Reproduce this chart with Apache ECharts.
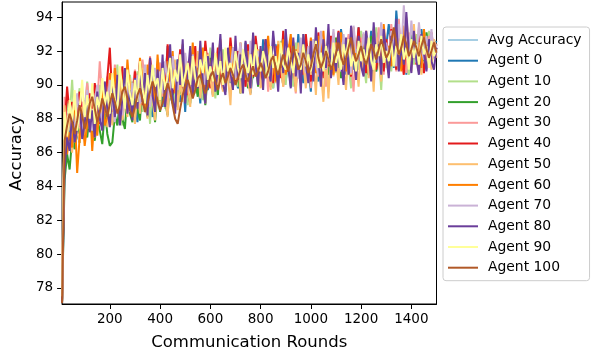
<!DOCTYPE html>
<html>
<head>
<meta charset="utf-8">
<script src="https://cdn.jsdelivr.net/npm/echarts@6/dist/echarts.min.js"></script>
<style>
  html, body { margin: 0; padding: 0; background: #fff; }
  #chart { width: 593px; height: 356px; }
</style>
</head>
<body>
<div id="chart"></div>
<script>
// rounds 10, 20, ..., 1500
var rounds = [];
for (var i = 1; i <= 150; i++) rounds.push(i * 10);

var xTicks = [200, 400, 600, 800, 1000, 1200, 1400];
var yTicks = [78, 80, 82, 84, 86, 88, 90, 92, 94];

var names = ['Avg Accuracy', 'Agent 0', 'Agent 10', 'Agent 20', 'Agent 30', 'Agent 40',
    'Agent 50', 'Agent 60', 'Agent 70', 'Agent 80', 'Agent 90', 'Agent 100'];
// matplotlib "Paired" colours
var colors = ['#a6cee3', '#1f78b4', '#b2df8a', '#33a02c', '#fb9a99', '#e31a1c',
    '#fdbf6f', '#ff7f00', '#cab2d6', '#6a3d9a', '#ffff99', '#b15928'];

var avg = [77.3, 86.8, 87.2, 87.6, 87.4, 87.9, 87.7, 88.1, 87.9, 88.2,
    88.0, 88.4, 88.2, 88.6, 88.3, 88.7, 88.5, 88.9, 88.7, 89.0,
    88.8, 89.1, 88.9, 89.2, 89.0, 89.3, 89.1, 89.4, 89.2, 89.5,
    89.3, 89.6, 89.4, 89.7, 89.5, 89.8, 89.6, 89.9, 89.7, 90.0,
    89.8, 90.1, 89.9, 90.2, 90.0, 90.3, 90.1, 90.3, 90.2, 90.4,
    89.9, 90.2, 90.0, 90.3, 90.1, 90.3, 90.2, 90.4, 90.2, 90.4,
    90.3, 90.5, 90.3, 90.6, 90.4, 90.6, 90.4, 90.7, 90.5, 90.7,
    90.5, 90.8, 90.6, 90.8, 90.7, 90.9, 90.7, 90.9, 90.8, 91.0,
    90.8, 91.0, 90.9, 91.1, 90.9, 91.1, 91.0, 91.2, 91.0, 91.2,
    91.0, 91.2, 91.1, 91.3, 91.1, 91.3, 91.2, 91.4, 91.2, 91.4,
    91.2, 91.4, 91.3, 91.5, 91.3, 91.5, 91.4, 91.6, 91.4, 91.6,
    91.4, 91.6, 91.5, 91.7, 91.5, 91.7, 91.6, 91.8, 91.6, 91.8,
    91.5, 91.8, 91.6, 91.8, 91.7, 91.9, 91.7, 91.9, 91.8, 92.0,
    91.7, 91.9, 91.8, 92.0, 91.8, 92.0, 91.9, 92.1, 91.9, 92.1,
    91.8, 92.0, 91.9, 92.1, 91.9, 92.1, 92.0, 92.1, 92.0, 92.1];
var agent0 = [77.1, 85.9, 88.3, 86.7, 87.9, 88.8, 87.1, 86.6, 88.4, 89.1,
    87.5, 88.9, 87.6, 86.9, 89.4, 88.2, 90.1, 87.8, 88.6, 89.7,
    88.0, 90.4, 89.1, 87.7, 88.5, 90.9, 89.6, 88.3, 90.2, 88.9,
    87.8, 89.9, 91.0, 88.6, 90.3, 89.2, 88.1, 90.7, 89.5, 91.3,
    88.7, 90.1, 92.3, 89.4, 88.9, 90.6, 91.5, 89.0, 90.8, 88.4,
    91.2, 90.0, 89.3, 91.8, 90.5, 88.9, 91.1, 92.0, 89.7, 90.6,
    89.4, 91.7, 90.3, 92.4, 90.9, 89.6, 91.4, 90.1, 92.2, 90.7,
    89.8, 91.3, 90.6, 92.5, 91.0, 89.5, 90.8, 92.1, 91.4, 90.0,
    92.7, 91.1, 90.4, 91.9, 89.8, 92.4, 90.6, 91.5, 92.9, 90.2,
    91.6, 89.9, 92.2, 90.8, 93.0, 91.3, 90.1, 92.5, 91.0, 89.6,
    92.3, 91.4, 90.2, 92.8, 91.7, 90.5, 93.1, 91.2, 90.8, 92.6,
    91.0, 93.3, 92.1, 90.6, 91.8, 92.9, 90.9, 91.5, 93.4, 91.9,
    90.7, 92.6, 91.4, 93.2, 92.0, 90.8, 91.7, 92.8, 90.9, 92.3,
    93.6, 92.1, 91.0, 94.4, 92.5, 91.3, 92.8, 90.6, 92.0, 93.1,
    91.5, 92.7, 90.9, 93.3, 92.2, 91.1, 92.9, 91.6, 92.3, 92.6];
var agent10 = [77.4, 87.2, 89.0, 88.1, 90.3, 87.5, 88.9, 89.8, 87.6, 88.4,
    90.2, 88.7, 87.4, 89.3, 88.1, 90.0, 89.2, 87.9, 88.6, 90.5,
    88.3, 89.5, 91.2, 88.8, 87.6, 89.9, 88.5, 90.6, 89.3, 88.0,
    90.8, 89.6, 88.4, 91.1, 89.9, 87.7, 90.2, 88.9, 91.4, 89.5,
    90.3, 88.6, 91.6, 89.9, 90.7, 88.8, 91.2, 89.4, 92.0, 90.1,
    88.8, 91.5, 90.3, 89.5, 91.9, 90.6, 89.1, 91.3, 90.0, 92.2,
    90.4, 89.2, 91.7, 90.6, 92.1, 89.6, 90.9, 91.8, 90.2, 91.4,
    89.9, 92.3, 91.0, 90.4, 91.6, 89.7, 92.0, 90.8, 91.5, 90.1,
    91.9, 90.6, 92.4, 91.2, 89.8, 91.7, 90.5, 92.6, 91.3, 90.0,
    92.1, 91.0, 89.9, 92.5, 91.4, 90.3, 93.0, 91.7, 90.6, 92.2,
    90.9, 92.8, 91.5, 90.2, 92.3, 91.1, 89.6, 92.6, 91.8, 90.7,
    93.0, 91.6, 90.4, 92.4, 91.2, 89.8, 92.9, 91.5, 90.9, 93.2,
    91.3, 90.1, 92.7, 91.8, 90.5, 93.4, 91.9, 89.7, 92.5, 91.0,
    92.2, 90.8, 93.1, 91.4, 92.6, 90.9, 93.5, 91.7, 90.6, 92.8,
    91.2, 93.0, 91.9, 90.7, 92.4, 91.5, 93.2, 91.3, 92.0, 91.8];
var agent20 = [77.2, 84.4, 85.9, 85.0, 86.8, 86.2, 87.7, 86.6, 88.3, 87.2,
    86.9, 88.4, 87.5, 86.7, 88.0, 87.3, 86.5, 88.6, 87.1, 86.4,
    86.6, 88.2, 87.6, 89.1, 88.0, 87.4, 89.5, 88.3, 87.8, 89.9,
    88.6, 87.9, 90.2, 88.9, 88.1, 90.5, 89.3, 87.8, 89.7, 88.4,
    90.3, 89.0, 88.2, 90.6, 89.4, 91.1, 88.7, 90.0, 89.2, 91.3,
    89.6, 88.9, 91.0, 90.2, 89.3, 91.4, 90.0, 88.8, 90.7, 91.6,
    89.8, 90.9, 89.4, 91.5, 90.3, 89.7, 91.9, 90.5, 89.9, 91.2,
    90.6, 89.5, 91.8, 90.9, 89.8, 92.1, 90.4, 91.3, 89.9, 91.7,
    90.2, 92.0, 90.8, 89.9, 91.6, 90.5, 92.3, 91.1, 90.0, 91.8,
    91.3, 90.1, 92.4, 91.0, 90.4, 91.9, 90.7, 92.6, 91.2, 89.9,
    92.1, 90.9, 91.6, 90.3, 92.7, 91.4, 90.6, 92.2, 91.0, 92.8,
    91.5, 90.4, 92.5, 91.8, 90.7, 93.0, 91.6, 90.9, 92.3, 91.2,
    92.6, 91.0, 90.6, 92.9, 91.7, 90.8, 93.1, 91.9, 91.2, 92.4,
    91.1, 92.7, 91.6, 90.9, 93.2, 92.0, 91.3, 92.8, 91.0, 93.0,
    91.8, 92.5, 90.8, 92.2, 91.4, 93.1, 92.0, 91.2, 92.6, 92.1];
var agent30 = [77.5, 89.3, 87.6, 88.8, 87.0, 89.4, 88.2, 87.5, 89.0, 88.4,
    90.1, 88.6, 87.8, 89.7, 88.9, 91.4, 89.2, 88.3, 90.5, 89.6,
    88.7, 91.2, 89.9, 88.4, 90.6, 89.3, 91.0, 88.6, 89.8, 90.9,
    89.5, 88.5, 91.5, 90.2, 89.1, 91.7, 89.8, 88.9, 90.6, 91.3,
    89.3, 90.8, 88.9, 91.8, 90.4, 89.6, 91.2, 90.0, 92.0, 89.7,
    91.4, 90.1, 89.4, 91.6, 90.5, 92.2, 90.8, 89.5, 91.9, 90.3,
    89.9, 91.8, 90.6, 92.4, 91.0, 89.8, 91.5, 90.2, 92.1, 91.1,
    90.4, 92.3, 91.2, 89.9, 91.7, 90.8, 92.6, 91.3, 90.1, 92.0,
    90.7, 91.9, 89.6, 92.2, 91.0, 90.3, 92.5, 91.4, 89.9, 91.8,
    92.4, 90.6, 91.3, 89.5, 92.1, 91.0, 92.7, 90.4, 91.6, 89.8,
    92.3, 91.1, 90.5, 92.9, 91.6, 89.9, 92.0, 91.4, 93.1, 90.8,
    91.7, 92.6, 90.2, 91.9, 93.0, 91.2, 89.6, 92.4, 91.5, 92.8,
    90.9, 93.2, 91.7, 90.4, 92.5, 91.1, 93.4, 91.8, 90.6, 92.7,
    91.4, 93.6, 92.1, 90.8, 93.9, 91.6, 92.4, 90.7, 93.1, 91.9,
    92.8, 91.3, 93.4, 91.7, 92.2, 90.9, 92.9, 91.5, 92.6, 92.3];
var agent40 = [77.3, 87.4, 89.9, 88.2, 89.0, 87.5, 88.7, 89.6, 87.9, 88.8,
    88.2, 89.5, 88.6, 90.1, 88.9, 87.7, 89.3, 88.5, 90.4, 92.2,
    89.1, 90.3, 88.7, 89.6, 91.1, 88.9, 90.5, 89.3, 88.6, 90.8,
    89.6, 91.4, 88.8, 90.2, 89.4, 91.6, 90.0, 88.9, 91.2, 89.7,
    90.6, 89.3, 92.4, 90.1, 89.5, 91.0, 90.4, 92.1, 89.8, 90.9,
    89.4, 91.5, 90.7, 92.3, 89.9, 91.1, 90.3, 92.6, 91.0, 89.8,
    91.6, 90.4, 92.2, 90.9, 89.7, 91.8, 90.6, 92.8, 91.1, 90.2,
    92.0, 90.7, 91.5, 89.9, 92.4, 91.2, 90.5, 92.9, 91.6, 90.3,
    91.2, 92.7, 90.6, 91.9, 90.1, 92.3, 91.5, 90.4, 93.2, 91.0,
    90.8, 92.5, 91.3, 89.9, 92.0, 91.7, 90.6, 93.0, 91.4, 90.2,
    92.4, 91.0, 93.1, 91.6, 90.4, 92.2, 91.1, 92.9, 90.7, 91.8,
    93.2, 91.5, 90.8, 92.6, 91.3, 90.5, 92.9, 91.7, 93.4, 91.1,
    91.9, 90.7, 92.5, 91.4, 93.0, 90.9, 92.2, 91.6, 90.8, 92.7,
    91.5, 93.3, 92.0, 90.9, 92.8, 91.6, 90.6, 93.1, 92.2, 91.4,
    92.6, 91.2, 93.0, 91.8, 90.7, 92.4, 91.5, 93.1, 91.9, 92.2];
var agent50 = [77.6, 88.8, 86.4, 88.5, 86.0, 88.9, 87.3, 86.6, 88.7, 87.0,
    89.1, 87.4, 88.3, 86.9, 89.6, 87.8, 88.6, 90.2, 87.5, 88.9,
    87.6, 89.8, 88.4, 90.6, 87.9, 89.2, 88.1, 90.4, 88.8, 87.7,
    90.1, 88.3, 91.0, 89.5, 88.0, 90.7, 89.1, 87.9, 90.3, 88.6,
    91.2, 89.4, 88.1, 90.8, 89.7, 91.5, 88.5, 90.2, 89.0, 91.7,
    89.9, 88.7, 91.3, 90.1, 92.0, 89.2, 90.6, 88.9, 91.8, 90.4,
    89.3, 91.5, 90.0, 92.2, 89.6, 91.1, 90.5, 88.8, 91.9, 90.3,
    91.6, 89.5, 90.9, 92.4, 90.2, 89.4, 91.7, 90.6, 92.1, 89.8,
    90.5, 92.3, 91.0, 89.7, 91.8, 90.1, 92.6, 91.2, 89.9, 91.4,
    92.0, 90.3, 91.6, 89.6, 92.5, 90.9, 91.3, 89.8, 92.2, 90.6,
    91.5, 89.4, 92.4, 90.8, 89.0, 91.9, 89.2, 92.1, 90.5, 91.7,
    90.0, 92.7, 91.1, 89.7, 92.3, 90.6, 93.0, 91.4, 89.9, 92.5,
    91.0, 93.2, 90.4, 92.0, 89.6, 92.8, 91.5, 90.2, 93.1, 91.3,
    90.7, 92.6, 91.2, 93.5, 90.9, 92.1, 91.6, 94.0, 92.3, 90.8,
    93.6, 91.4, 92.5, 90.6, 93.0, 91.8, 92.2, 90.9, 92.7, 91.6];
var agent60 = [77.2, 87.6, 85.9, 87.2, 86.3, 88.5, 84.8, 86.9, 88.2, 86.4,
    87.7, 89.2, 86.1, 88.4, 87.0, 88.9, 89.8, 87.6, 88.1, 90.7,
    88.4, 91.0, 89.2, 88.0, 90.3, 88.7, 91.5, 89.6, 88.3, 90.4,
    89.0, 91.6, 90.1, 88.5, 91.2, 89.4, 90.6, 88.8, 91.8, 89.7,
    90.5, 88.9, 91.4, 90.2, 92.0, 89.5, 91.1, 90.0, 92.4, 89.8,
    91.3, 90.2, 92.5, 89.9, 91.0, 90.6, 92.2, 89.6, 91.5, 90.8,
    92.0, 90.4, 91.2, 92.7, 90.1, 91.6, 90.7, 92.3, 89.9, 91.4,
    90.8, 92.5, 91.1, 90.3, 92.0, 91.4, 92.8, 90.6, 91.2, 92.1,
    90.4, 91.7, 92.9, 90.9, 91.5, 90.2, 92.4, 91.0, 92.7, 90.6,
    91.9, 93.0, 90.8, 92.1, 91.3, 90.5, 92.6, 91.7, 90.9, 92.8,
    91.2, 90.7, 92.9, 91.5, 93.2, 90.9, 92.0, 91.4, 90.6, 92.5,
    91.6, 93.1, 92.0, 90.8, 92.6, 91.3, 93.4, 91.0, 92.2, 91.5,
    93.0, 91.2, 92.4, 90.9, 93.3, 91.8, 92.1, 91.0, 93.6, 91.7,
    92.3, 91.1, 93.2, 91.9, 92.6, 90.8, 93.5, 91.6, 92.4, 91.2,
    93.1, 91.7, 92.5, 91.0, 93.3, 92.1, 91.6, 92.8, 91.9, 92.4];
var agent70 = [77.4, 88.1, 87.2, 88.9, 88.4, 87.0, 89.5, 87.9, 87.4, 88.8,
    89.7, 88.2, 87.3, 89.1, 90.0, 88.5, 87.9, 89.6, 88.7, 90.3,
    89.0, 87.8, 90.5, 89.3, 88.2, 91.0, 89.7, 88.4, 90.1, 89.2,
    90.6, 88.9, 89.8, 91.2, 89.5, 88.7, 90.4, 91.0, 89.3, 90.8,
    89.5, 91.4, 90.1, 89.2, 91.7, 90.5, 89.7, 91.3, 90.0, 91.9,
    90.7, 89.6, 91.8, 90.4, 89.9, 92.1, 90.9, 90.0, 91.6, 90.5,
    91.8, 90.2, 91.1, 92.3, 90.7, 89.8, 91.9, 90.9, 92.2, 90.4,
    91.3, 92.5, 90.8, 91.7, 90.3, 92.6, 91.2, 90.7, 92.0, 91.5,
    90.6, 92.4, 91.4, 90.8, 92.9, 91.6, 90.5, 92.2, 91.1, 93.0,
    91.7, 90.9, 92.6, 91.3, 90.4, 92.8, 91.8, 90.7, 92.3, 91.5,
    92.7, 91.2, 90.6, 93.2, 91.9, 90.9, 92.5, 91.4, 93.3, 91.0,
    92.1, 90.8, 93.0, 91.6, 92.4, 90.7, 93.5, 91.9, 92.2, 91.3,
    93.1, 91.5, 92.0, 90.9, 93.4, 92.2, 91.3, 93.7, 91.8, 92.5,
    91.6, 93.2, 92.4, 91.1, 93.6, 92.0, 94.7, 92.3, 91.5, 93.8,
    92.0, 91.3, 93.7, 92.2, 91.5, 92.9, 91.8, 93.3, 91.6, 92.4];
var agent80 = [77.2, 85.0, 86.9, 86.1, 88.4, 86.6, 87.4, 88.9, 86.8, 87.7,
    89.3, 87.2, 88.5, 86.9, 89.6, 88.0, 87.3, 90.2, 88.6, 87.5,
    89.8, 88.1, 90.6, 87.6, 89.2, 91.0, 88.3, 89.7, 87.9, 90.4,
    88.6, 91.3, 89.0, 90.7, 88.2, 91.6, 89.4, 88.4, 90.9, 89.1,
    91.8, 88.7, 90.3, 92.4, 89.2, 88.3, 91.5, 90.0, 92.7, 88.9,
    90.6, 92.3, 89.3, 91.1, 89.8, 92.6, 90.2, 88.9, 91.7, 90.4,
    92.5, 89.6, 91.0, 93.0, 90.1, 89.4, 92.2, 90.8, 89.7, 92.9,
    90.3, 91.8, 89.5, 92.6, 90.9, 89.8, 93.1, 91.2, 90.0, 92.3,
    89.7, 92.7, 91.0, 90.2, 93.2, 91.5, 89.6, 92.4, 90.7, 93.3,
    91.1, 89.8, 92.8, 90.5, 91.9, 89.5, 93.0, 91.3, 90.1, 92.6,
    90.2, 93.4, 91.5, 89.9, 92.7, 91.0, 93.6, 90.4, 92.0, 90.8,
    93.1, 91.4, 90.0, 92.8, 90.6, 93.5, 91.7, 90.3, 92.9, 91.1,
    90.5, 93.2, 91.9, 90.2, 93.7, 91.3, 92.4, 90.6, 93.3, 91.8,
    90.4, 92.9, 91.6, 93.9, 90.8, 92.3, 91.2, 94.3, 92.0, 90.7,
    93.2, 91.5, 90.6, 93.0, 91.9, 90.8, 92.7, 91.4, 90.9, 92.2];
var agent90 = [77.5, 88.4, 87.0, 89.1, 87.8, 89.7, 87.3, 88.6, 90.3, 88.1,
    89.4, 88.0, 90.1, 87.7, 89.3, 88.5, 90.4, 88.8, 89.6, 88.3,
    90.7, 89.2, 88.4, 91.1, 89.7, 88.6, 90.9, 89.5, 88.8, 90.3,
    89.0, 91.4, 89.8, 88.9, 90.6, 89.4, 91.2, 89.9, 90.4, 89.1,
    91.0, 89.7, 90.5, 91.6, 89.8, 90.9, 90.2, 91.8, 89.9, 90.6,
    91.3, 90.0, 91.7, 90.4, 89.9, 91.5, 90.7, 92.0, 90.3, 91.1,
    90.2, 91.9, 90.6, 91.4, 90.0, 92.2, 90.8, 91.3, 90.5, 92.0,
    91.0, 90.4, 92.1, 91.2, 90.7, 91.8, 90.6, 92.4, 91.1, 90.8,
    92.0, 91.3, 90.5, 92.3, 91.0, 91.7, 90.8, 92.5, 91.2, 90.9,
    92.2, 91.4, 90.7, 92.0, 91.6, 90.9, 92.4, 91.1, 91.8, 90.8,
    91.7, 92.6, 91.0, 91.9, 90.8, 92.3, 91.5, 90.9, 92.5, 91.3,
    92.0, 90.9, 92.4, 91.6, 92.7, 91.1, 91.8, 90.8, 92.6, 91.4,
    92.1, 91.2, 92.8, 91.5, 90.9, 92.4, 91.7, 92.9, 91.3, 92.0,
    91.4, 92.6, 91.1, 92.3, 91.8, 93.0, 91.5, 92.2, 90.9, 92.7,
    91.6, 92.4, 91.2, 92.9, 91.8, 92.3, 91.0, 92.6, 91.7, 92.1];
var agent100 = [77.1, 86.7, 87.6, 88.3, 87.8, 87.1, 87.9, 88.8, 88.2, 87.4,
    88.0, 88.9, 89.3, 88.6, 87.8, 88.4, 89.2, 88.7, 88.1, 88.9,
    89.5, 89.0, 88.3, 88.8, 89.6, 89.9, 89.2, 88.5, 88.1, 88.7,
    89.4, 89.8, 89.1, 88.4, 88.9, 89.6, 90.2, 89.7, 89.0, 88.5,
    88.9, 89.5, 90.1, 89.6, 88.8, 88.0, 87.7, 88.6, 89.4, 89.9,
    90.3, 89.8, 89.2, 89.7, 90.4, 90.6, 90.0, 89.5, 89.9, 90.5,
    90.8, 90.2, 89.7, 90.3, 90.7, 90.1, 90.5, 91.0, 90.6, 90.0,
    90.4, 90.9, 91.2, 90.6, 90.2, 90.7, 91.1, 90.5, 90.8, 91.3,
    90.9, 90.4, 90.8, 91.4, 91.7, 91.0, 90.6, 91.2, 91.8, 91.3,
    90.8, 91.5, 92.3, 91.6, 90.9, 91.2, 91.9, 91.4, 90.7, 91.1,
    91.8, 92.4, 91.6, 91.0, 91.4, 92.0, 91.5, 90.9, 91.3, 91.9,
    92.5, 91.7, 91.2, 91.6, 92.2, 92.8, 91.9, 91.4, 91.8, 92.3,
    91.6, 91.2, 91.7, 92.4, 92.0, 91.5, 92.1, 92.7, 92.2, 91.6,
    91.9, 92.6, 93.4, 92.5, 91.8, 92.2, 92.9, 92.4, 91.7, 92.1,
    92.6, 92.2, 91.7, 92.3, 92.8, 92.1, 91.6, 92.0, 92.5, 91.9];

var allData = [avg, agent0, agent10, agent20, agent30, agent40,
    agent50, agent60, agent70, agent80, agent90, agent100];

var chart = echarts.init(document.getElementById('chart'));

var series = names.map(function (name, k) {
    return {
        name: name,
        type: 'line',
        data: rounds.map(function (r, j) { return [r, allData[k][j]]; }),
        color: colors[k],
        showSymbol: false,
        lineStyle: { width: 2 }
    };
});

var font = 'DejaVu Sans';

var option = {
    animation: false,
    grid: {
        left: 61, right: 156.5, top: 2, bottom: 52,
        show: true, borderColor: '#000', borderWidth: 1
    },
    legend: {
        orient: 'vertical',
        left: 443, top: 27,
        padding: [5, 8, 5, 5],
        itemWidth: 30, itemHeight: 2,
        itemGap: 4.7,
        icon: 'rect',
        backgroundColor: 'rgba(255,255,255,0.8)',
        borderColor: '#cccccc', borderWidth: 1, borderRadius: 3,
        textStyle: { fontFamily: font, fontSize: 13.9, color: '#000', lineHeight: 16, padding: [0, 0, 0, 5] },
        data: names
    },
    xAxis: {
        type: 'value',
        min: 10, max: 1500,
        name: 'Communication Rounds',
        nameLocation: 'middle',
        nameGap: 30,
        nameTextStyle: { fontFamily: font, fontSize: 16.5, color: '#000' },
        axisLine: { lineStyle: { color: '#000', width: 1 } },
        axisTick: { customValues: xTicks, length: 5, lineStyle: { color: '#000' } },
        axisLabel: {
            customValues: xTicks, fontFamily: font, fontSize: 13.5, color: '#000', margin: 8,
            formatter: function (v) { return String(v); }
        },
        splitLine: { show: false }
    },
    yAxis: {
        type: 'value',
        min: 77.05, max: 94.9,
        name: 'Accuracy',
        nameLocation: 'middle',
        nameGap: 24,
        nameTextStyle: { fontFamily: font, fontSize: 16.5, color: '#000' },
        axisLine: { show: true, lineStyle: { color: '#000', width: 1 } },
        axisTick: { show: true, customValues: yTicks, length: 5, lineStyle: { color: '#000' } },
        axisLabel: { customValues: yTicks, fontFamily: font, fontSize: 13.5, color: '#000', margin: 9 },
        splitLine: { show: false }
    },
    series: series
};

chart.setOption(option);
</script>
</body>
</html>
